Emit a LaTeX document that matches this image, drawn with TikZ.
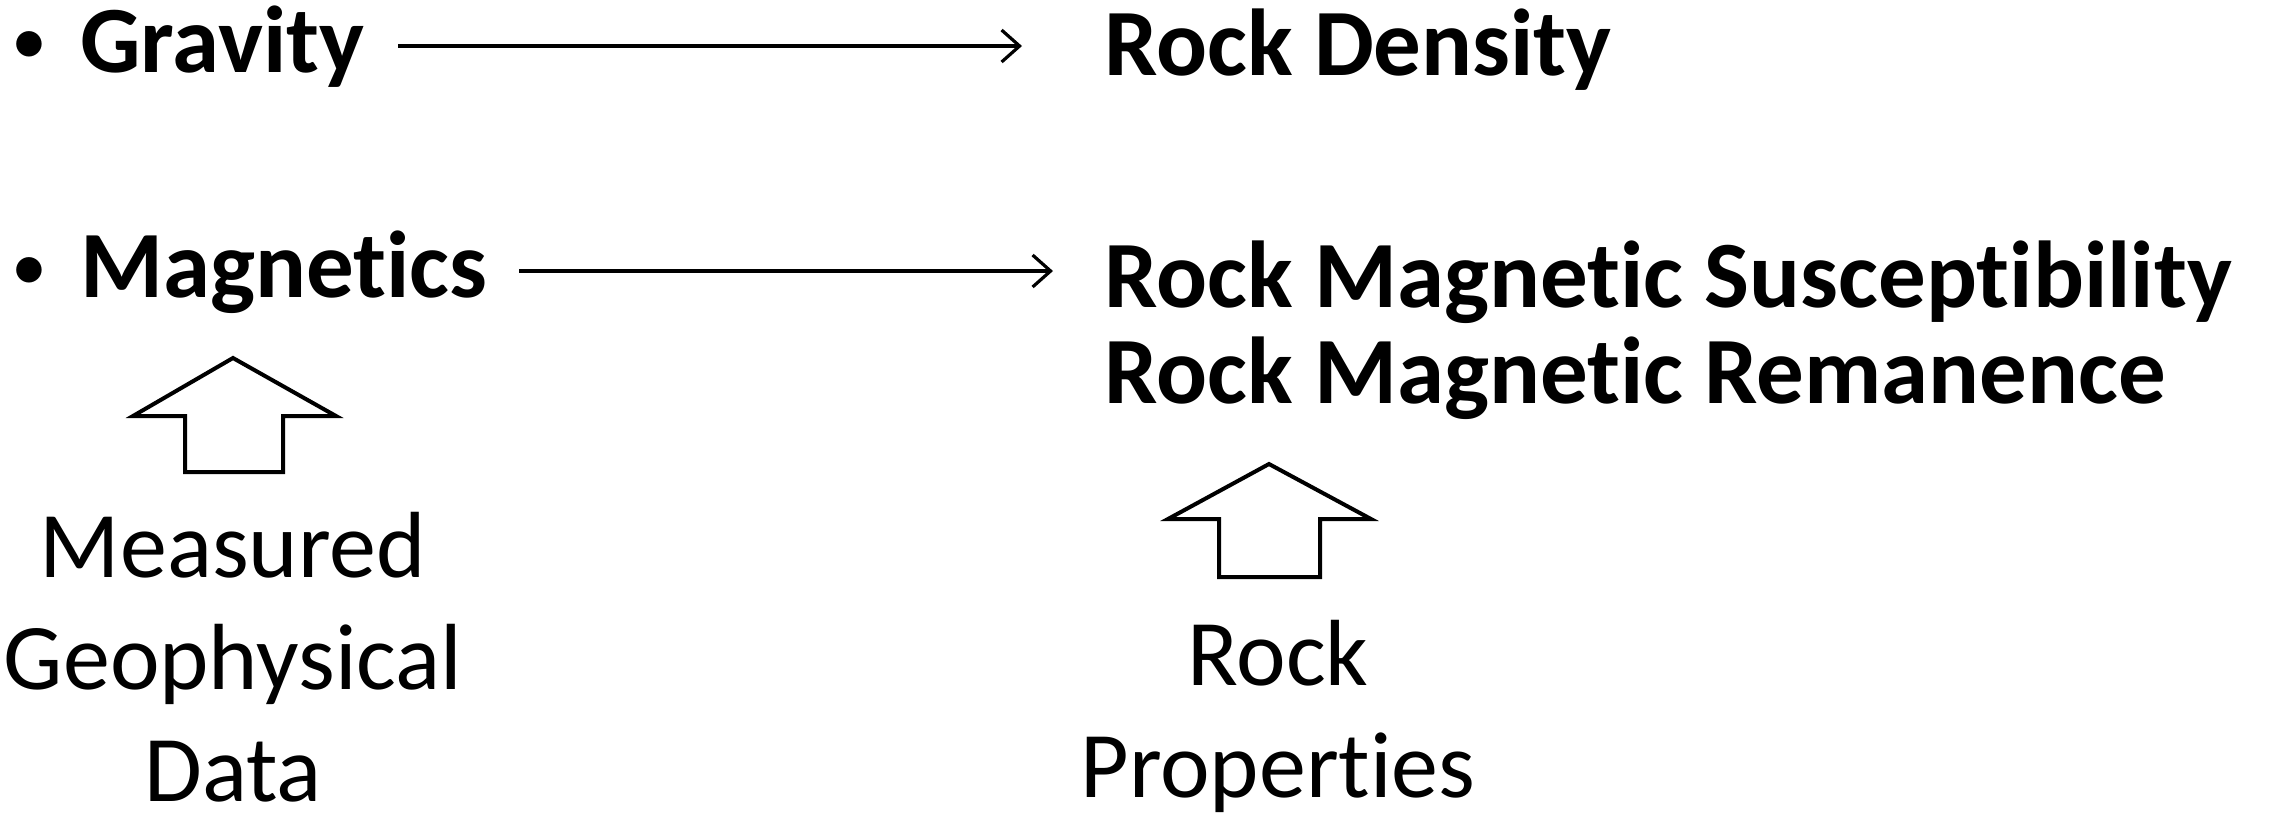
\documentclass[tikz,border=0pt]{standalone}
\usepackage{fontspec}
\setmainfont{Carlito}[Ligatures=NoCommon]
\usetikzlibrary{arrows.meta}
\begin{document}
\begin{tikzpicture}[x=0.5pt,y=-0.5pt,
  term/.style={inner sep=0pt, anchor=base west, align=left,
    font=\fontsize{47.5}{48}\selectfont\bfseries},
  dot/.style={inner sep=0pt, anchor=base, font=\fontsize{36}{40}\selectfont},
  caption/.style={inner sep=0pt, anchor=base, align=center,
    font=\fontsize{47}{56}\selectfont},
  link/.style={line width=1.6pt, -{Straight Barb[length=9pt,width=16pt,line width=1.6pt]}},
  blockarrow/.style={line width=2pt, line join=miter}]
\useasboundingbox (0,0) rectangle (2272,816);

% bulleted items
\node[dot] (b1) at (29,64) {•};
\node[term] (grav) at (80,72) {Gravity};
\node[dot] (b2) at (29,290) {•};
\node[term] (mag) at (80,297) {Magnetics};

% rock properties (base anchor sits on the last line)
\node[term] (dens) at (1104,75) {Rock Density};
\node[term] (susc) at (1104,403) {Rock Magnetic Susceptibility\\Rock Magnetic Remanence};

% arrow end points
\coordinate (g1) at (398,46);
\coordinate (g2) at (1022,46);
\coordinate (m1) at (519,271);
\coordinate (m2) at (1053,271);
\draw[link] (g1) -- (g2);
\draw[link] (m1) -- (m2);

% hollow block arrows
\draw[blockarrow] (233,358) -- (336,416) -- (283,416) -- (283,472) -- (185,472)
  -- (185,416) -- (133,416) -- cycle;
\draw[blockarrow] (1269,464) -- (1371,519) -- (1320,519) -- (1320,577) -- (1219,577)
  -- (1219,519) -- (1168,519) -- cycle;

% captions
\node[caption] (meas) at (233,801) {Measured\\Geophysical\\Data};
\node[caption] (rock) at (1278,797) {Rock\\Properties};
\end{tikzpicture}
\end{document}
